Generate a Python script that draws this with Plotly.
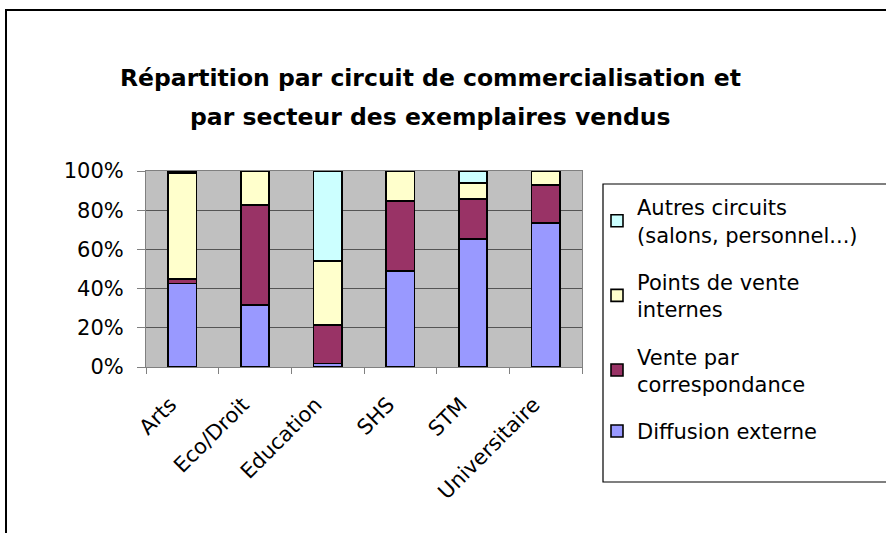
import plotly.graph_objects as go

# Sectors and share of copies sold (%) per sales channel
secteurs = ["Arts", "Eco/Droit", "Education", "SHS", "STM", "Universitaire"]
diffusion_externe = [42.6, 31.5, 1.7, 48.9, 65.3, 73.6]
vente_correspondance = [2.2, 51.1, 19.6, 35.8, 20.4, 19.2]
points_vente_internes = [54.3, 17.4, 32.7, 15.3, 8.3, 7.2]
autres_circuits = [0.9, 0.0, 46.0, 0.0, 6.0, 0.0]

titre = ["Répartition par circuit de commercialisation et",
         "par secteur des exemplaires vendus"]

# stacked bottom to top
series = [
    ("Diffusion externe", diffusion_externe, "#9999FF"),
    ("Vente par<br>correspondance", vente_correspondance, "#993366"),
    ("Points de vente<br>internes", points_vente_internes, "#FFFFCC"),
    ("Autres circuits<br>(salons, personnel...)", autres_circuits, "#CCFFFF"),
]

W, H = 886, 533
L, R, T, B = 146, 582, 171, 367  # plot area in pixels


def px_x(x):
    return (x - L) / (R - L)


def px_y(y):
    return (B - y) / (B - T)


FONT = "DejaVu Sans"

fig = go.Figure()
for i, (name, vals, color) in enumerate(series):
    fig.add_trace(go.Bar(
        x=secteurs, y=vals, name=name, width=0.39,
        legendgroup=f"g{i}", legendrank=1000 - i,  # top segment listed first
        marker=dict(color=color, line=dict(color="black", width=1.6)),
    ))

annotations = [
    dict(text=f"<b>{line}</b>", xref="paper", yref="paper",
         x=px_x(430), y=px_y(yc), xanchor="center", yanchor="middle",
         showarrow=False, font=dict(family=FONT, size=23.5, color="black"))
    for line, yc in zip(titre, [78, 117])
]

fig.update_layout(
    width=W, height=H,
    margin=dict(l=L, r=W - R, t=T, b=H - B),
    barmode="stack",
    paper_bgcolor="white",
    plot_bgcolor="#C0C0C0",
    font=dict(family=FONT, size=21, color="black"),
    annotations=annotations,
    showlegend=True,
    legend=dict(
        x=px_x(597), xanchor="left", y=px_y(187), yanchor="top",
        traceorder="grouped", bgcolor="rgba(0,0,0,0)",
        font=dict(family=FONT, size=21), itemwidth=30,
        tracegroupgap=17, maxheight=420,
    ),
    xaxis=dict(
        type="category", tickangle=-45, tickson="boundaries",
        ticks="outside", ticklen=6, tickcolor="#808080",
        ticklabelstandoff=16, ticklabelshift=-12,
        showgrid=False, showline=True, linecolor="#808080", mirror=True,
        tickfont=dict(family=FONT, size=21),
    ),
    yaxis=dict(
        range=[0, 100], dtick=20, ticksuffix="%",
        ticks="outside", ticklen=8, tickcolor="#808080",
        ticklabelstandoff=9,
        showgrid=True, gridcolor="#555555", gridwidth=1,
        showline=True, linecolor="#808080", mirror=True,
        zeroline=False, tickfont=dict(family=FONT, size=21),
    ),
    shapes=[
        # outer chart frame
        dict(type="rect", xref="paper", yref="paper",
             x0=px_x(6), x1=px_x(W + 20), y0=px_y(H + 20), y1=px_y(10),
             line=dict(color="black", width=2), fillcolor="rgba(0,0,0,0)"),
        # legend frame
        dict(type="rect", xref="paper", yref="paper",
             x0=px_x(603), x1=px_x(W + 20), y0=px_y(482), y1=px_y(184),
             line=dict(color="black", width=1.2), fillcolor="rgba(0,0,0,0)"),
    ],
)

fig.write_html("out.html")
